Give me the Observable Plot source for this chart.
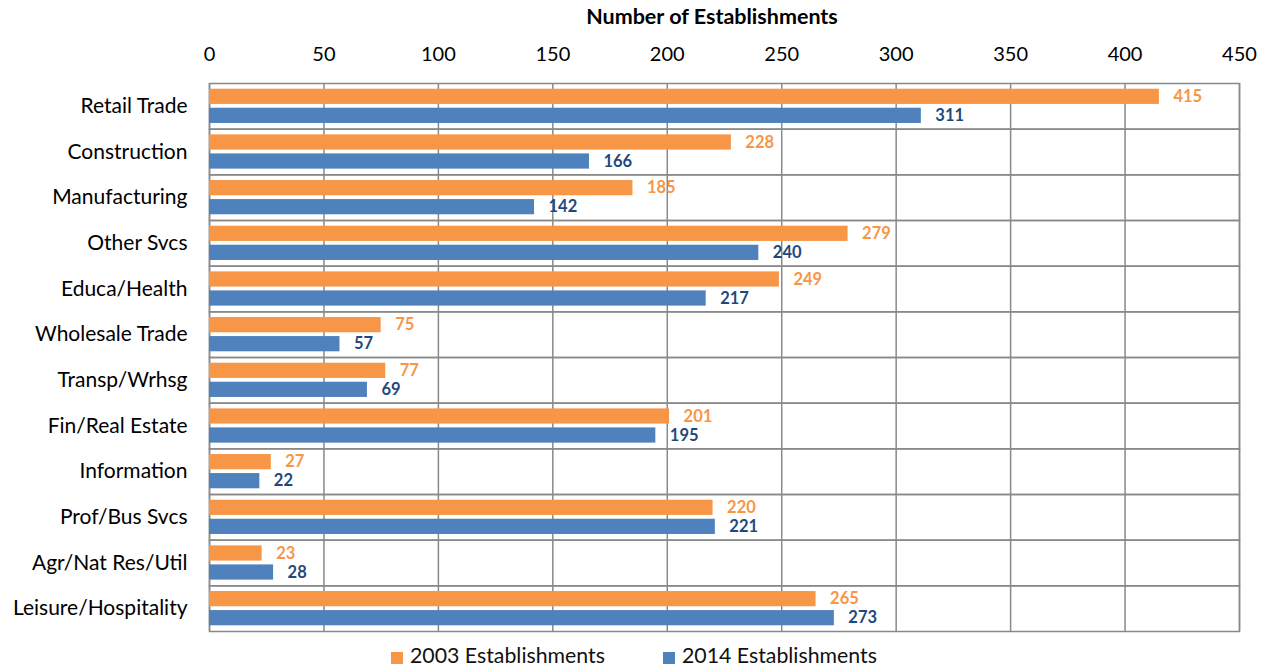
<!DOCTYPE html>
<html>
<head>
<meta charset="utf-8">
<script src="https://cdn.jsdelivr.net/npm/d3@7"></script>
<script src="https://cdn.jsdelivr.net/npm/@observablehq/plot@0.6"></script>
<style>
  body { margin: 0; background: #fff; font-family: Lato, "Noto Sans", sans-serif; }
  #wrap { position: relative; width: 1264px; }
  #title { position: absolute; top: 3px; left: 0; width: 1424px; text-align: center; font-weight: bold; font-size: 21.5px; color: #000; }
  #legend { display: flex; gap: 58px; margin-left: 391px; font-size: 21.3px; color: #111; height: 29px; align-items: center; }
  #legend span.sw { display: inline-block; width: 12px; height: 12px; margin-right: 7px; vertical-align: -1px; }
</style>
</head>
<body>
<div id="wrap">
  <div id="title">Number of Establishments</div>
  <div id="chart"></div>
  <div id="legend"></div>
</div>
<script>
// Establishments by industry sector, 2003 vs 2014
const categories = ["Retail Trade", "Construction", "Manufacturing", "Other Svcs", "Educa/Health",
  "Wholesale Trade", "Transp/Wrhsg", "Fin/Real Estate", "Information", "Prof/Bus Svcs",
  "Agr/Nat Res/Util", "Leisure/Hospitality"];
const est2003 = [415, 228, 185, 279, 249, 75, 77, 201, 27, 220, 23, 265];
const est2014 = [311, 166, 142, 240, 217, 57, 69, 195, 22, 221, 28, 273];
const seriesNames = ["2003 Establishments", "2014 Establishments"];
const xTicks = [0, 50, 100, 150, 200, 250, 300, 350, 400, 450];

const barColors = ["#F79646", "#4F81BD"];
const labelColors = ["#F79646", "#1F497D"];

const rows = [];
categories.forEach((c, i) => {
  rows.push({category: c, series: seriesNames[0], value: est2003[i]});
  rows.push({category: c, series: seriesNames[1], value: est2014[i]});
});

const font = "Lato, 'Noto Sans', sans-serif";

const chart = Plot.plot({
  width: 1264,
  height: 640,
  marginTop: 83,
  marginLeft: 209,
  marginRight: 25,
  marginBottom: 9,
  style: {fontFamily: font, background: "#fff"},
  x: {domain: [0, 450], ticks: xTicks, label: null},
  y: {domain: seriesNames, paddingInner: 0.2, paddingOuter: 0.3, axis: null, round: false},
  fy: {domain: categories, padding: 0, label: null, round: false},
  color: {domain: seriesNames, range: barColors},
  marks: [
    Plot.gridX(xTicks, {stroke: "#898989", strokeOpacity: 1, strokeWidth: 1.5}),
    Plot.frame({stroke: "#898989", strokeWidth: 1.5}),
    Plot.barX(rows, {x: "value", y: "series", fy: "category", fill: "series"}),
    Plot.text(rows, {
      x: "value", y: "series", fy: "category", text: d => String(d.value),
      fill: d => labelColors[seriesNames.indexOf(d.series)],
      textAnchor: "start", dx: 14, fontWeight: "bold", fontSize: 16.5
    }),
    Plot.axisX(xTicks, {anchor: "top", tickSize: 0, tickPadding: 23, fontSize: 20, fill: "#000", label: null}),
    Plot.axisFy({anchor: "left", tickSize: 0, tickPadding: 22, fontSize: 21, fill: "#000", label: null})
  ]
});
document.getElementById("chart").appendChild(chart);

const legend = document.getElementById("legend");
seriesNames.forEach((s, i) => {
  const item = document.createElement("div");
  const sw = document.createElement("span");
  sw.className = "sw";
  sw.style.background = barColors[i];
  item.appendChild(sw);
  item.appendChild(document.createTextNode(s));
  legend.appendChild(item);
});
</script>
</body>
</html>
